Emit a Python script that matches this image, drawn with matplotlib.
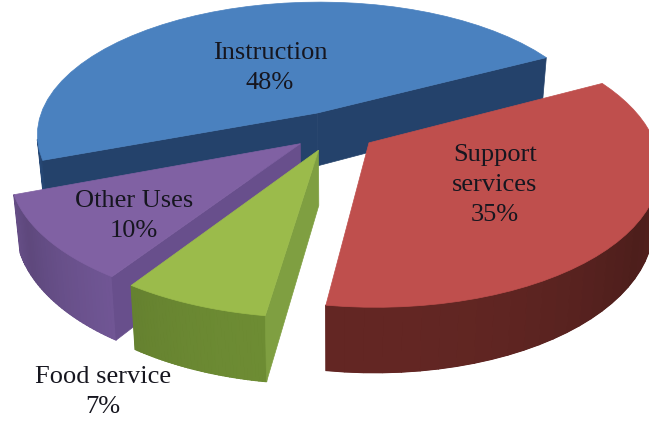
import numpy as np
import matplotlib
matplotlib.use('Agg')
import matplotlib.pyplot as plt
from matplotlib.colors import to_rgb
from matplotlib.patches import Polygon

labels = ['Instruction', 'Support\nservices', 'Food service', 'Other Uses']
shares = [48, 35, 7, 10]

top_colors = ['#4a81bf', '#bf4f4d', '#9bbb4b', '#8061a3']
cut_colors = ['#24426b', '#7a2f2c', '#7f9f41', '#684f8c']
wall_colors = ['#2a4d7c', '#5a2320', '#64802f', '#6f5593']
label_xy = [(270, 68), (495, 185), (103, 392), (134, 216)]

# projection of the pie plane onto pixels
cx, cy = 334, 131
fx, fy = 282, 134
persp = 0.16
depth = 54
shrink = 0.02
start = -110.4
explode = 0.15


def project(x, y, low=False):
    w = 1 + persp * y
    if low:
        return cx + fx * x / (w * (1 + shrink)), cy - fy * y / w + depth / w
    return cx + fx * x / w, cy - fy * y / w


def quad_area(pts):
    p = np.array(pts)
    return 0.5 * np.sum(p[:, 0] * np.roll(p[:, 1], -1) - np.roll(p[:, 0], -1) * p[:, 1])


fig = plt.figure(figsize=(6.49, 4.22), dpi=100)
ax = fig.add_axes([0, 0, 1, 1])
ax.set_xlim(0, 649)
ax.set_ylim(422, 0)
ax.axis('off')


def wedge(i, a0, a1, z):
    mid = np.radians((a0 + a1) / 2)
    ox, oy = explode * np.sin(mid), explode * np.cos(mid)
    th = np.radians(np.linspace(a0, a1, 40))
    xs = ox + np.sin(th)
    ys = oy + np.cos(th)
    # outer wall: the strips facing the viewer, laid over a flat base so seams don't show
    strips = []
    for j in range(len(th) - 1):
        q = [project(xs[j], ys[j]), project(xs[j + 1], ys[j + 1]),
             project(xs[j + 1], ys[j + 1], True), project(xs[j], ys[j], True)]
        if quad_area(q) < 0:
            strips.append((q, th[j]))
    if strips:
        upper = [s[0][0] for s in strips] + [strips[-1][0][1]]
        lower = [strips[-1][0][2]] + [s[0][3] for s in strips[::-1]]
        ax.add_patch(Polygon(upper + lower, closed=True, fc=wall_colors[i],
                             ec=wall_colors[i], lw=0.5, zorder=z))
        for q, t in strips:
            shade = 0.85 + 0.25 * abs(np.sin(t * 1.5))
            c = np.clip(np.array(to_rgb(wall_colors[i])) * shade, 0, 1)
            ax.add_patch(Polygon(q, closed=True, fc=c, ec=c, lw=1.0, zorder=z))
    # the two cut faces
    for k, s in ((0, -1), (-1, 1)):
        q = [project(ox, oy), project(xs[k], ys[k]),
             project(xs[k], ys[k], True), project(ox, oy, True)]
        if quad_area(q) * s > 0:
            ax.add_patch(Polygon(q, closed=True, fc=cut_colors[i], ec=cut_colors[i],
                                 lw=0.5, zorder=z + 1))
    top = [project(ox, oy)] + [project(a, b) for a, b in zip(xs, ys)]
    ax.add_patch(Polygon(top, closed=True, fc=top_colors[i], ec=top_colors[i],
                         lw=0.5, zorder=z + 2))


angles = start + np.cumsum([0] + shares) * 3.6
# back to front, the green slice sits over the purple one
for z, i in enumerate([0, 1, 3, 2]):
    wedge(i, angles[i], angles[i + 1], z * 3)

for name, share, (tx, ty) in zip(labels, shares, label_xy):
    ax.text(tx, ty, f'{name}\n{share}%', ha='center', va='center', fontsize=19,
            family='Liberation Serif', color='#16161f', linespacing=1.45, zorder=30)

fig.savefig('out.png', dpi=100)
